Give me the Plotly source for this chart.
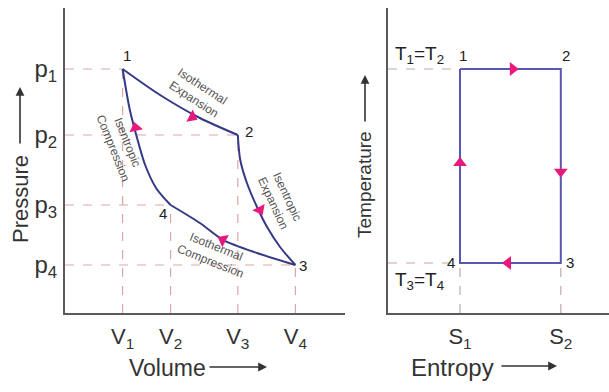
import plotly.graph_objects as go

W, H = 609, 392

# ---- P-V diagram data ----
V_vals = [1.2, 2.2, 3.6, 4.8]
V_text = ["V<sub>1</sub>", "V<sub>2</sub>", "V<sub>3</sub>", "V<sub>4</sub>"]
P_vals = [6.1, 4.45, 2.7, 1.2]
P_text = ["p<sub>1</sub>", "p<sub>2</sub>", "p<sub>3</sub>", "p<sub>4</sub>"]

# state points (V, p)
state_names = ["1", "2", "3", "4"]
state_V = [1.2, 3.6, 4.8, 2.2]
state_P = [6.1, 4.45, 1.2, 2.7]

iso_exp_v = [1.2, 1.98, 2.81, 3.6]
iso_exp_p = [6.1, 5.45, 4.875, 4.45]
isen_exp_v = [3.6, 3.65, 3.79, 4.0, 4.21, 4.48, 4.8]
isen_exp_p = [4.45, 3.83, 3.25, 2.65, 2.15, 1.65, 1.2]
iso_comp_v = [4.8, 4.0, 3.29, 2.81, 2.2]
iso_comp_p = [1.2, 1.5, 1.83, 2.25, 2.7]
isen_comp_v = [2.2, 1.9, 1.67, 1.5, 1.35, 1.2]
isen_comp_p = [2.7, 3.12, 3.7, 4.38, 5.08, 6.1]

arrow_pv_v = [2.65, 4.06, 3.29, 1.47]
arrow_pv_p = [4.9, 2.58, 1.83, 4.63]
arrow_pv_angle = [117, 153, 298, -13]

# ---- T-S diagram data ----
S_vals = [1.5, 3.6]
S_text = ["S<sub>1</sub>", "S<sub>2</sub>"]
T_hot, T_cold = 6.1, 1.25
cycle_S = [1.5, 3.6, 3.6, 1.5, 1.5]
cycle_T = [6.1, 6.1, 1.25, 1.25, 6.1]
ts_names = ["1", "2", "3", "4"]
ts_S = [1.5, 3.6, 3.6, 1.5]
ts_T = [6.1, 6.1, 1.25, 1.25]
arrow_ts_S = [2.6, 3.6, 2.5, 1.5]
arrow_ts_T = [6.1, 3.53, 1.25, 3.75]
arrow_ts_angle = [90, 180, 270, 0]

CURVE = "#363985"
RECT = "#5a56b4"
ARROW = "#e8197c"
DASH = "#dba7a7"
AXIS = "#5a5a5a"
TXT = "#333333"

fig = go.Figure()

# dashed guides P-V
for v, p in zip(state_V, state_P):
    fig.add_trace(go.Scatter(x=[0, v], y=[p, p], mode="lines",
                             line=dict(color=DASH, width=1.2, dash="dash"),
                             xaxis="x", yaxis="y", hoverinfo="skip", showlegend=False))
    fig.add_trace(go.Scatter(x=[v, v], y=[0, p], mode="lines",
                             line=dict(color=DASH, width=1.2, dash="dash"),
                             xaxis="x", yaxis="y", hoverinfo="skip", showlegend=False))

# curves
for xs, ys in [(iso_exp_v, iso_exp_p), (isen_exp_v, isen_exp_p),
               (iso_comp_v, iso_comp_p), (isen_comp_v, isen_comp_p)]:
    fig.add_trace(go.Scatter(x=xs, y=ys, mode="lines",
                             line=dict(color=CURVE, width=2, shape="spline", smoothing=0.8),
                             xaxis="x", yaxis="y", showlegend=False))

fig.add_trace(go.Scatter(x=arrow_pv_v, y=arrow_pv_p, mode="markers",
                         marker=dict(symbol="triangle-up", size=12, color=ARROW,
                                     angle=arrow_pv_angle),
                         xaxis="x", yaxis="y", showlegend=False))

# dashed guides T-S
for s, t in [(ts_S[0], ts_T[0]), (ts_S[3], ts_T[3])]:
    fig.add_trace(go.Scatter(x=[0, s], y=[t, t], mode="lines",
                             line=dict(color="#c4a8a8", width=1.2, dash="dash"),
                             xaxis="x2", yaxis="y2", hoverinfo="skip", showlegend=False))
for s, t in [(ts_S[3], ts_T[3]), (ts_S[2], ts_T[2])]:
    fig.add_trace(go.Scatter(x=[s, s], y=[0, t], mode="lines",
                             line=dict(color="#c4a8a8", width=1.2, dash="dash"),
                             xaxis="x2", yaxis="y2", hoverinfo="skip", showlegend=False))

fig.add_trace(go.Scatter(x=cycle_S, y=cycle_T, mode="lines",
                         line=dict(color=RECT, width=2),
                         xaxis="x2", yaxis="y2", showlegend=False))
fig.add_trace(go.Scatter(x=arrow_ts_S, y=arrow_ts_T, mode="markers",
                         marker=dict(symbol="triangle-up", size=12, color=ARROW,
                                     angle=arrow_ts_angle),
                         xaxis="x2", yaxis="y2", showlegend=False))

ann = []
# state labels P-V
pv_off = {"1": (4, 14), "2": (11, 4), "3": (8, 0), "4": (-8, -8)}
for n, v, p in zip(state_names, state_V, state_P):
    dx, dy = pv_off[n]
    ann.append(dict(x=v, y=p, xref="x", yref="y", text=n, showarrow=False,
                    xanchor="center", yanchor="middle",
                    xshift=dx, yshift=dy, font=dict(size=15, color="#222")))
ts_off = {"1": (3, 14), "2": (5, 14), "3": (9, 1), "4": (-9, 1)}
for n, s, t in zip(ts_names, ts_S, ts_T):
    dx, dy = ts_off[n]
    ann.append(dict(x=s, y=t, xref="x2", yref="y2", text=n, showarrow=False,
                    xanchor="center", yanchor="middle",
                    xshift=dx, yshift=dy, font=dict(size=15, color="#222")))

ann.append(dict(x=0, y=T_hot, xref="x2", yref="y2", text="T<sub>1</sub>=T<sub>2</sub>",
                showarrow=False, xanchor="left", yanchor="middle", xshift=5, yshift=14,
                font=dict(size=19, color="#222")))
ann.append(dict(x=0, y=T_cold, xref="x2", yref="y2", text="T<sub>3</sub>=T<sub>4</sub>",
                showarrow=False, xanchor="left", yanchor="middle", xshift=5, yshift=-18,
                font=dict(size=19, color="#222")))

# process labels
proc = [("Isothermal<br>Expansion", 198, 93, 33),
        ("Isentropic<br>Compression", 120, 145, 68),
        ("Isentropic<br>Expansion", 280, 200, 65),
        ("Isothermal<br>Compression", 213, 254, 22)]
for txt, px, py, ang in proc:
    ann.append(dict(x=px / W, y=1 - py / H, xref="paper", yref="paper", text=txt,
                    showarrow=False, textangle=ang, xanchor="center", yanchor="middle",
                    font=dict(size=12, color="#555")))

# axis titles
titles = [("Volume", 167, 368, 0, 23),
          ("Pressure", 20, 199, -90, 22),
          ("Entropy", 452, 367, 0, 24),
          ("Temperature", 365, 185, -90, 19)]
for txt, px, py, ang, sz in titles:
    ann.append(dict(x=px / W, y=1 - py / H, xref="paper", yref="paper", text=txt,
                    showarrow=False, textangle=ang, xanchor="center", yanchor="middle",
                    font=dict(size=sz, color=TXT)))

# title arrows (head position, tail offset in px)
title_arrows = [(267, 367, -59, 0), (20, 87, 0, 58), (557, 366, -57, 0), (365, 75, 0, 48)]
for hx, hy, ax, ay in title_arrows:
    ann.append(dict(x=hx / W, y=1 - hy / H, xref="paper", yref="paper", text="",
                    showarrow=True, ax=ax, ay=ay, arrowhead=2, arrowsize=1.1,
                    arrowwidth=1.6, arrowcolor=TXT, font=dict(size=1)))

ydom = [(H - 313) / H, (H - 8) / H]
axis_common = dict(showgrid=False, zeroline=False, showline=True, linecolor=AXIS,
                   linewidth=2, ticks="", fixedrange=True, automargin=False)

fig.update_layout(
    width=W, height=H, margin=dict(l=0, r=0, t=0, b=0),
    paper_bgcolor="white", plot_bgcolor="white",
    font=dict(family="Liberation Sans, Arial, sans-serif", color=TXT),
    xaxis=dict(domain=[65 / W, 345 / W], range=[0, 280 / 48], anchor="y",
               tickvals=V_vals, ticktext=V_text, tickfont=dict(size=22, color=TXT),
               ticklabelstandoff=3, **axis_common),
    yaxis=dict(domain=ydom, range=[0, 305 / 40], anchor="x",
               tickvals=P_vals, ticktext=P_text, tickfont=dict(size=24, color=TXT),
               ticklabelstandoff=1, **axis_common),
    xaxis2=dict(domain=[388 / W, 1.0], range=[0, 221 / 48], anchor="y2",
                tickvals=S_vals, ticktext=S_text, tickfont=dict(size=22, color=TXT),
                ticklabelstandoff=3, **axis_common),
    yaxis2=dict(domain=ydom, range=[0, 305 / 40], anchor="x2",
                showticklabels=False, **axis_common),
    annotations=ann,
)

fig.write_html("out.html", config={"displayModeBar": False},
               post_script="document.body.style.margin='0';document.body.style.overflow='hidden';")
